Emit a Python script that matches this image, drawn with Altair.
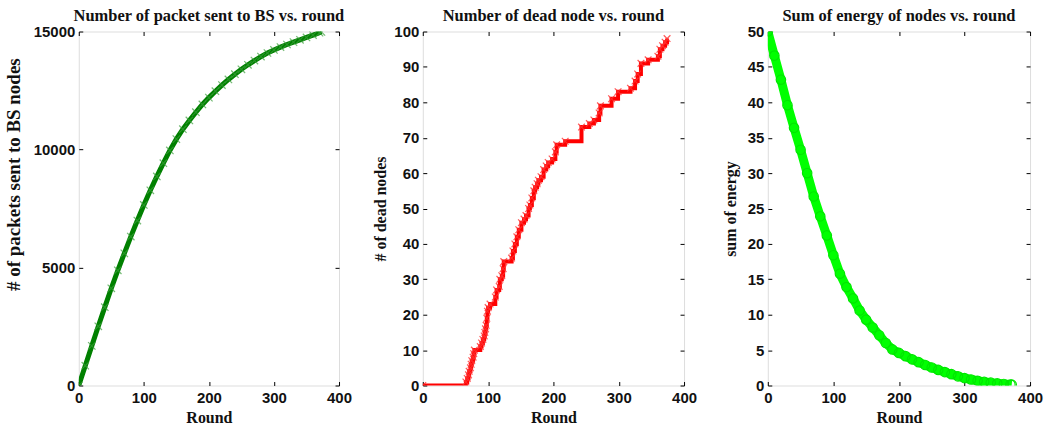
import altair as alt
import pandas as pd

# ---------------- data ----------------
rounds_packets = [0, 10, 20, 30, 40, 50, 60, 70, 80, 90, 100, 110, 120, 130, 140, 150,
                  160, 170, 180, 190, 200, 210, 220, 230, 240, 250, 260, 270, 280, 290,
                  300, 310, 320, 330, 340, 350, 360, 370, 373]
packets = [0, 840, 1680, 2510, 3320, 4120, 4880, 5600, 6310, 6990, 7650, 8270, 8860,
           9420, 9960, 10440, 10860, 11230, 11580, 11910, 12200, 12470, 12730, 12970,
           13190, 13400, 13590, 13770, 13940, 14090, 14220, 14340, 14450, 14550, 14650,
           14750, 14850, 14950, 14980]

rounds_dead = [0, 66, 68, 70, 71, 73, 74, 75, 77, 78, 79, 88, 90, 92, 94, 95, 96, 97, 98,
               99, 100, 103, 111, 113, 117, 118, 121, 123, 124, 136, 138, 141, 144, 147,
               151, 155, 158, 162, 164, 167, 170, 172, 175, 177, 181, 185, 189, 192, 198,
               203, 205, 218, 243, 255, 262, 270, 272, 289, 299, 318, 325, 329, 334, 345,
               360, 363, 367, 371, 374]
dead = [0, 1, 2, 3, 4, 5, 6, 7, 8, 9, 10, 11, 12, 13, 14, 15, 16, 17, 19,
        21, 22, 23, 25, 27, 28, 30, 31, 33, 35, 36, 38, 40, 42, 44,
        46, 47, 48, 50, 51, 53, 55, 56, 57, 58, 59, 61, 62, 63, 64,
        66, 68, 69, 73, 74, 75, 77, 79, 81, 83, 84, 86, 88, 91, 92,
        93, 95, 96, 97, 98]

rounds_energy = [0, 10, 20, 30, 40, 50, 60, 70, 80, 90, 100, 110, 120, 130, 140, 150,
                 160, 170, 180, 190, 200, 210, 220, 230, 240, 250, 260, 270, 280, 290,
                 300, 310, 320, 330, 340, 350, 360, 370, 372]
energy = [50.0, 46.6, 43.2, 39.6, 36.4, 33.3, 30.0, 26.7, 23.9, 21.2, 18.4, 15.8, 13.9,
          12.3, 10.6, 9.3, 8.2, 7.1, 6.0, 5.1, 4.6, 4.15, 3.7, 3.3, 2.9, 2.55, 2.2,
          1.9, 1.6, 1.3, 1.05, 0.85, 0.67, 0.52, 0.4, 0.3, 0.22, 0.14, 0.12]

x_ticks = [0, 100, 200, 300, 400]
packet_ticks = [0, 5000, 10000, 15000]
dead_ticks = [0, 10, 20, 30, 40, 50, 60, 70, 80, 90, 100]
energy_ticks = [0, 5, 10, 15, 20, 25, 30, 35, 40, 45, 50]

titles = ["Number of packet sent to BS vs. round",
          "Number of dead node vs. round",
          "Sum of energy of nodes vs. round"]
y_titles = ["# of packets sent to BS nodes", "# of dead nodes", "sum of energy"]

# ---------------- styling ----------------
SANS = "Liberation Sans"
SERIF = "Liberation Serif"
H = 355
X_MARK = "M-1,-1L1,1M-1,1L1,-1"


def bottom_axis():
    return alt.Axis(orient="bottom", values=x_ticks, format="d", title="Round",
                    domain=False, grid=False, offset=-4, tickSize=4, tickColor="black",
                    labelFont=SANS, labelFontSize=15, labelFontWeight="bold",
                    labelColor="#111", labelPadding=5, labelFlush=False,
                    titleFont=SERIF, titleFontSize=16, titleFontWeight="bold",
                    titleColor="#111", titleY=41, titleBaseline="alphabetic")


def left_axis(title, values, tx, ty, fs):
    return alt.Axis(orient="left", values=values, format="d", title=title,
                    domain=False, grid=False, offset=-4, tickSize=4, tickColor="black",
                    labelFont=SANS, labelFontSize=15, labelFontWeight="bold",
                    labelColor="#111", labelPadding=4,
                    titleFont=SERIF, titleFontSize=fs, titleFontWeight="bold",
                    titleColor="#111", titleAngle=270, titleX=tx, titleY=ty,
                    titleAlign="center", titleBaseline="alphabetic")


def top_axis():
    return alt.Axis(orient="top", values=x_ticks, labels=False, title=None,
                    domain=False, grid=False, offset=-4, tickSize=4, tickColor="black")


def right_axis(values):
    return alt.Axis(orient="right", values=values, labels=False, title=None,
                    domain=False, grid=False, offset=-4, tickSize=4, tickColor="black")


def panel(df, ydom, yvals, title, ytitle, tx, ty, fs, width, line_kw, pt_kw):
    xs = alt.Scale(domain=[0, 400], nice=False)
    ys = alt.Scale(domain=ydom, nice=False)
    base = alt.Chart(df)
    line = base.mark_line(clip=True, **line_kw).encode(
        x=alt.X("round:Q", scale=xs, axis=bottom_axis()),
        y=alt.Y("v:Q", scale=ys, axis=left_axis(ytitle, yvals, tx, ty, fs)),
    )
    pts = base.mark_point(clip=True, **pt_kw).encode(
        x=alt.X("round:Q", scale=xs, axis=None),
        y=alt.Y("v:Q", scale=ys, axis=None),
    )
    ghost = base.mark_point(opacity=0, size=1, clip=True).encode(
        x=alt.X("round:Q", scale=xs, axis=top_axis()),
        y=alt.Y("v:Q", scale=ys, axis=right_axis(yvals)),
    )
    return (alt.layer(line, pts, ghost)
            .resolve_scale(x="shared", y="shared")
            .resolve_axis(x="independent", y="independent")
            .properties(width=width, height=H,
                        title=alt.TitleParams(title, font=SERIF, fontSize=16.5,
                                              fontWeight="bold", color="#111",
                                              anchor="middle", offset=0)))


df1 = pd.DataFrame({"round": rounds_packets, "v": packets})
df2 = pd.DataFrame({"round": rounds_dead, "v": dead})
df3 = pd.DataFrame({"round": rounds_energy, "v": energy})

p1 = panel(df1, [0, 15000], packet_ticks, titles[0], y_titles[0], -63, 143, 19, 261,
           dict(color="#008000", strokeWidth=5),
           dict(shape=X_MARK, filled=False, size=55, strokeWidth=1.2,
                color="#3a9f3a", opacity=0.7))
p2 = panel(df2, [0, 100], dead_ticks, titles[1], y_titles[1], -41, H / 2, 16, 262,
           dict(color="#ff0000", strokeWidth=4, interpolate="step-after"),
           dict(shape=X_MARK, filled=False, size=45, strokeWidth=1.2,
                color="#ff3030", opacity=0.8))
p3 = panel(df3, [0, 50], energy_ticks, titles[2], y_titles[2], -36, H / 2, 16, 263,
           dict(color="#00ff00", strokeWidth=9),
           dict(shape="circle", filled=False, size=90, strokeWidth=1.2,
                color="#00e600", opacity=1))

chart = (alt.hconcat(p1, p2, p3, spacing=84, bounds="flush")
         .properties(padding={"left": 4, "top": 7, "right": 5, "bottom": 2})
         .configure_view(stroke="black", strokeWidth=1.2)
         .configure(background="white"))

chart.save("out.html", embed_options={"renderer": "svg", "actions": False})
